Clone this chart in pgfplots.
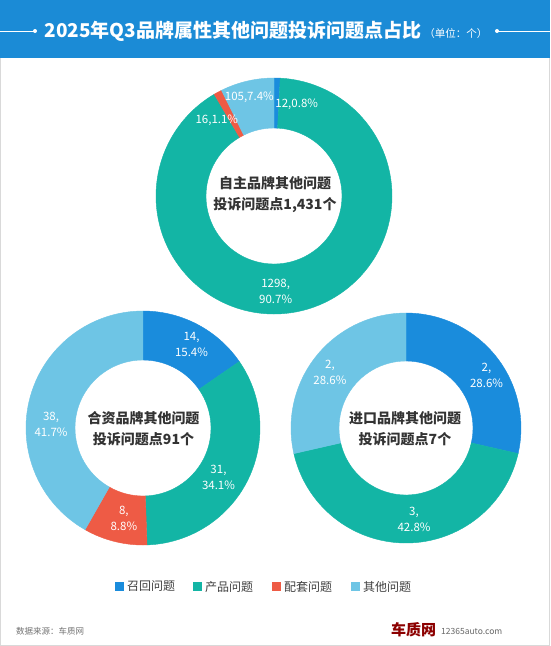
\documentclass[border=0pt]{standalone}
\usepackage{fontspec}
\setmainfont{Noto Sans CJK SC}
\usepackage{pgfplots}
\usepackage{pgfplotstable}
\pgfplotsset{compat=1.18}

\definecolor{cRec}{HTML}{1A8CDC}
\definecolor{cPro}{HTML}{13B5A5}
\definecolor{cMat}{HTML}{EE5B45}
\definecolor{cOth}{HTML}{6EC5E5}
\definecolor{barblue}{HTML}{1B8BD6}
\definecolor{txt}{HTML}{333333}

% v = count, pct = share as printed, br = label on two lines,
% la/lr = label angle/radius, ci = slice colour (0 recall,1 product,2 matching,3 other)
\pgfplotstableread{
v    pct   br  la    lr   ci
12   0.8   0   76    94   0
1298 90.7  1   -89   95   1
16   1.1   0   127   95   2
105  7.4   0   104   102  3
}\tblZizhu
\pgfplotstableread{
v    pct   br  la    lr   ci
14   15.4  1   60    97   0
31   34.1  1   -33   90   1
8    8.8   1   -102  92   2
38   41.7  1   178   92   3
}\tblHezi
\pgfplotstableread{
v    pct   br  la    lr   ci
2    28.6  1   33    96   0
3    42.8  1   -85   92   1
2    28.6  1   144   94   3
}\tblJinkou

\newcommand\prepdonut[2]{%
  \pgfplotstablecreatecol[create col/expr accum={\pgfmathaccuma+\thisrow{v}}{0}]{cum}#1%
  \pgfplotstablegetrowsof{#1}%
  \pgfmathtruncatemacro\lastrow{\pgfplotsretval-1}%
  \pgfplotstablegetelem{\lastrow}{cum}\of#1%
  \let#2\pgfplotsretval}
\prepdonut{\tblZizhu}{\totA}
\prepdonut{\tblHezi}{\totB}
\prepdonut{\tblJinkou}{\totC}

\pgfplotsset{
  donut/.style={
    at={#1}, anchor=center,
    width=2pt, height=2pt, scale only axis, hide axis, clip=false,
    xmin=-1, xmax=1, ymin=-1, ymax=1,
  },
  ringdata/.style={
    scatter, only marks, mark=-, mark size=0pt,
    point meta=\thisrow{pct},
    visualization depends on={\thisrow{v}\as\dV},
    visualization depends on={\thisrow{cum}\as\dCum},
    visualization depends on={\thisrow{la}\as\dLa},
    visualization depends on={\thisrow{lr}\as\dLr},
    visualization depends on={\thisrow{pct}\as\dP},
    visualization depends on={\thisrow{br}\as\dBr},
    visualization depends on={\thisrow{ci}\as\dCi},
    scatter/@post marker code/.code={},
  },
  % slices: #1 outer radius, #2 inner radius, #3 total
  ring/.style n args={3}{
    ringdata,
    scatter/@pre marker code/.code={%
      \pgfmathsetmacro\aS{90-360*((\dCum-\dV)/#3)}%
      \pgfmathsetmacro\aE{90-360*(\dCum/#3)}%
      \pgfmathtruncatemacro\ci{\dCi}%
      \ifcase\ci\def\sc{cRec}\or\def\sc{cPro}\or\def\sc{cMat}\else\def\sc{cOth}\fi
      \fill[\sc] (\aS:#1pt) arc[start angle=\aS, end angle=\aE, radius=#1pt]
        -- (\aE:#2pt) arc[start angle=\aE, end angle=\aS, radius=#2pt] -- cycle;
    },
  },
  % value labels, drawn over all slices
  ringlabels/.style={
    ringdata,
    scatter/@pre marker code/.code={%
      \pgfmathtruncatemacro\br{\dBr}%
      \def\vtx{\pgfmathprintnumber[int detect,1000 sep={},assume math mode=true]{\dV}}%
      \def\ptx{\pgfmathprintnumber[fixed,precision=1,fixed zerofill,assume math mode=true]{\dP}\%}%
      \ifnum\br=1 \def\lab{\vtx,\\\ptx}\else\def\lab{\vtx,\ptx}\fi
      \node[text=white, align=center, inner sep=0pt,
        font=\fontsize{11.5}{16}\selectfont] at (\dLa:\dLr pt) {\lab};
    },
  },
}

\begin{document}
\begin{tikzpicture}
\begin{scope}[x=1pt, y=-1pt]
  \useasboundingbox (0,0) rectangle (550,646);
  \fill[white] (0,0) rectangle (550,646);
  \fill[barblue] (0,0) rectangle (550,58);
  \draw[gray!30, line width=1pt] (0.5,58) -- (0.5,645.5) -- (549.5,645.5) -- (549.5,58);
  % title
  \draw[white, line width=0.8pt] (0,31) -- (34,31);
  \fill[white] (35,31) circle (2);
  \draw[white, line width=0.8pt] (497,31) -- (550,31);
  \fill[white] (497,31) circle (2);
  \node[text=white, font=\fontsize{19}{22}\selectfont\bfseries, inner sep=0pt]
    at (266,31) {2025年Q3品牌属性其他问题投诉问题点占比\,{\fontsize{10.5}{12}\selectfont\mdseries（单位：个）}};
  % centre texts
  \node[text=txt, align=center, font=\fontsize{14}{21}\selectfont\bfseries]
    at (275,195) {自主品牌其他问题\\投诉问题点1,431个};
  \node[text=txt, align=center, font=\fontsize{14}{21}\selectfont\bfseries]
    at (143.5,429) {合资品牌其他问题\\投诉问题点91个};
  \node[text=txt, align=center, font=\fontsize{14}{21}\selectfont\bfseries]
    at (405,429) {进口品牌其他问题\\投诉问题点7个};
  % legend
  \foreach \c/\x/\t in {cRec/115/召回问题, cPro/193/产品问题, cMat/272/配套问题, cOth/351/其他问题}{
    \fill[\c] (\x,582) rectangle ++(8.5,8.5);
    \node[anchor=west, text=black!75, font=\fontsize{12}{14}\selectfont, inner sep=0pt]
      at (\x+12,586.5) {\t};
  }
  % footer
  \node[anchor=west, text=black!55, font=\fontsize{8.5}{10}\selectfont, inner sep=0pt]
    at (16,631) {数据来源：车质网};
  \node[anchor=west, text=red!55!black, font=\fontsize{15}{16}\selectfont\bfseries, inner sep=0pt]
    at (391,630) {车质网};
  \node[anchor=west, text=black!60, font=\fontsize{8.5}{10}\selectfont, inner sep=0pt]
    at (441,631) {12365auto.com};
\end{scope}

\begin{axis}[donut={(274pt,-196pt)}]
  \addplot[ring={118}{68}{\totA}] table[x expr=0, y expr=0] {\tblZizhu};
  \addplot[ringlabels] table[x expr=0, y expr=0] {\tblZizhu};
\end{axis}
\begin{axis}[donut={(143pt,-428pt)}]
  \addplot[ring={117}{68}{\totB}] table[x expr=0, y expr=0] {\tblHezi};
  \addplot[ringlabels] table[x expr=0, y expr=0] {\tblHezi};
\end{axis}
\begin{axis}[donut={(406pt,-428pt)}]
  \addplot[ring={115}{67}{\totC}] table[x expr=0, y expr=0] {\tblJinkou};
  \addplot[ringlabels] table[x expr=0, y expr=0] {\tblJinkou};
\end{axis}
\end{tikzpicture}
\end{document}
